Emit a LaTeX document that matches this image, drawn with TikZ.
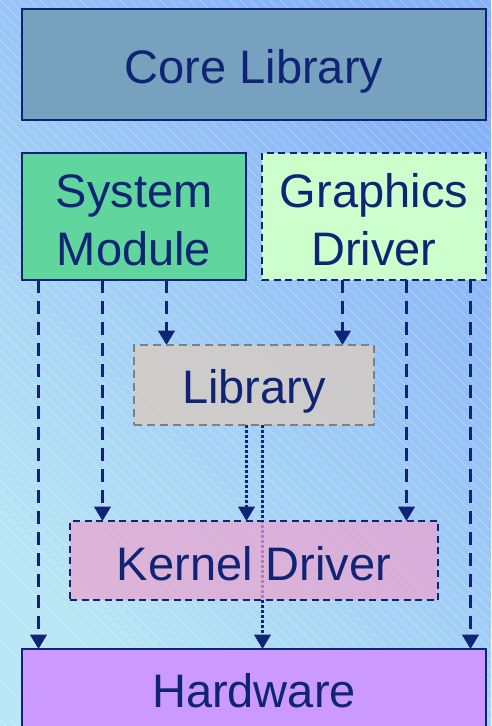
\documentclass[tikz,border=0pt]{standalone}
\usepackage{fontspec}
\setmainfont{Liberation Sans}
\usetikzlibrary{arrows.meta}
\definecolor{navy}{HTML}{0F2474}
\definecolor{coreC}{HTML}{76A2C0}
\definecolor{sysC}{HTML}{60D69E}
\definecolor{gfxC}{HTML}{CCFFCC}
\definecolor{libC}{HTML}{D6CBC4}
\definecolor{kerC}{HTML}{ECA3CF}
\definecolor{hwC}{HTML}{CC99FF}
\definecolor{bgLow}{HTML}{B8E6F4}
\definecolor{bgHigh}{HTML}{86B2F8}
\pgfdeclarelayer{bg}
\pgfdeclarelayer{lines}
\pgfsetlayers{bg,lines,main}
\tikzset{
  box/.style={draw=navy, line width=2pt, inner sep=0pt, outer sep=0pt},
  dbox/.style={box, dash pattern=on 7pt off 4.5pt},
  txt/.style={anchor=base, inner sep=0pt, text=navy, font=\fontsize{47}{56}\selectfont},
  arrowtip/.style={-{Triangle[width=16.5pt 0, length=14.5pt 0]}},
  darr/.style={draw=navy, line width=3pt, dash pattern=on 13pt off 8pt, arrowtip},
  dotarr/.style={draw=navy, line width=2.8pt, dash pattern=on 3pt off 2pt, arrowtip},
}
\begin{document}
\begin{tikzpicture}[x=1pt,y=-1pt]
\useasboundingbox (0,0) rectangle (491,726);
\clip (0,0) rectangle (491,726);
\begin{pgfonlayer}{bg}
\shade[bottom color=bgLow, top color=bgHigh, shading angle=-45] (0,0) rectangle (491,726);
\foreach \i in {-730,-720,...,500}
  \draw[white, opacity=0.35, line width=0.6pt] (\i,0) -- (\i+726,726);
\end{pgfonlayer}

% boxes
\node[box, fill=coreC, minimum width=464pt, minimum height=111pt] (core) at (254,64.5) {};
\node[box, fill=sysC, minimum width=224pt, minimum height=127pt] (sys) at (134,216.5) {};
\node[dbox, fill=gfxC, minimum width=224pt, minimum height=127pt] (gfx) at (374,216.5) {};
\node[box, draw=gray, dash pattern=on 8pt off 5pt, fill=libC, fill opacity=0.85, minimum width=240pt, minimum height=80pt] (lib) at (254,385) {};
\node[dbox, fill=kerC, fill opacity=0.72, minimum width=368pt, minimum height=79pt] (ker) at (254,560.5) {};
\node[box, fill=hwC, minimum width=464pt, minimum height=110pt] (hw) at (254,704) {};

% texts
\node[txt] (tcore) at (254,83) {Core Library};
\node[txt] (tsys1) at (134,207) {System};
\node[txt] (tsys2) at (134,265) {Module};
\node[txt] (tgfx1) at (374,207) {Graphics};
\node[txt] (tgfx2) at (374,265) {Driver};
\node[txt] (tlib) at (254,403) {Library};
\node[txt] (tker) at (254,580) {Kernel Driver};
\node[txt] (thw) at (254,707) {Hardware};

% connector start points
\coordinate (s1) at ([xshift=16.5pt]sys.south west);
\coordinate (s2) at ([xshift=80.5pt]sys.south west);
\coordinate (s3) at ([xshift=144.5pt]sys.south west);
\coordinate (g1) at ([xshift=80.5pt]gfx.south west);
\coordinate (g2) at ([xshift=144.5pt]gfx.south west);
\coordinate (g3) at ([xshift=208.5pt]gfx.south west);
\coordinate (l1) at ([xshift=112.5pt]lib.south west);
\coordinate (l2) at ([xshift=128.5pt]lib.south west);

\begin{pgfonlayer}{lines}
\draw[darr] (s1) -- (s1 |- hw.north);
\draw[darr] (s2) -- (s2 |- ker.north);
\draw[darr] (s3) -- (s3 |- lib.north);
\draw[darr] (g1) -- (g1 |- lib.north);
\draw[darr] (g2) -- (g2 |- ker.north);
\draw[darr] (g3) -- (g3 |- hw.north);
\draw[dotarr] (l1) -- (l1 |- ker.north);
\draw[dotarr] (l2) -- (l2 |- hw.north);
\end{pgfonlayer}
\end{tikzpicture}
\end{document}
